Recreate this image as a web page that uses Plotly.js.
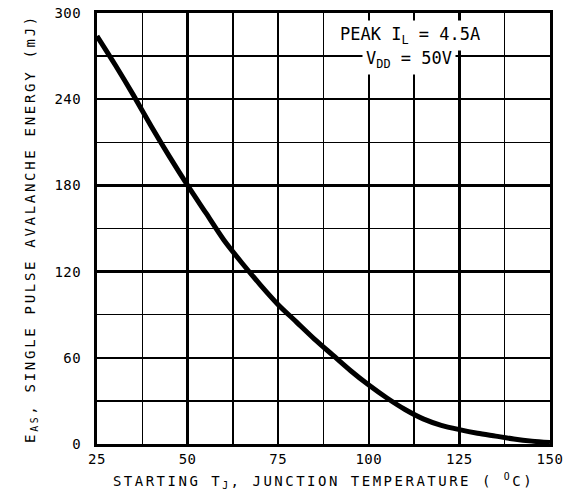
<!DOCTYPE html>
<html>
<head>
<meta charset="utf-8">
<script src="https://cdn.plot.ly/plotly-3.0.1.min.js"></script>
<style>
html,body{margin:0;padding:0;background:#fff;}
#chart{width:566px;height:499px;}
.xtitle{letter-spacing:2.5px;}
.ytitle{letter-spacing:2.7px;}
.xtick text,.ytick text{letter-spacing:0.5px;}
</style>
</head>
<body>
<div id="chart"></div>
<script>
// Starting junction temperature (°C)
const tempC = [25, 30, 35, 40, 45, 50, 55, 60, 65, 70, 75, 80, 85, 90, 95, 100, 105, 110, 115, 120, 125, 130, 135, 140, 145, 150];
// Single pulse avalanche energy (mJ)
const energyMJ = [284, 264, 243, 221, 200, 180, 161, 142, 126, 111, 97, 85, 73, 62, 51, 41, 32, 24, 17.5, 13, 10, 7.5, 5.5, 3.5, 2, 1];

const xTicks = [25, 50, 75, 100, 125, 150];
const yTicks = [0, 60, 120, 180, 240, 300];

const fontFam = '"DejaVu Sans Mono", monospace';

const trace = {
  x: tempC,
  y: energyMJ,
  type: 'scatter',
  mode: 'lines',
  line: {color: '#000', width: 5, shape: 'spline', smoothing: 0.8},
  hoverinfo: 'skip',
  showlegend: false
};

const layout = {
  width: 566,
  height: 499,
  margin: {l: 97, r: 16, t: 13, b: 55},
  paper_bgcolor: '#fff',
  plot_bgcolor: '#fff',
  font: {family: fontFam, color: '#000', size: 14},
  xaxis: {
    range: [25, 150],
    tickvals: xTicks,
    ticktext: xTicks.map(String),
    ticks: '',
    ticklabelstandoff: 0,
    showgrid: true,
    gridcolor: '#000',
    gridwidth: 2.5,
    minor: {dtick: 12.5, tick0: 25, showgrid: true, gridcolor: '#000', gridwidth: 1.5},
    zeroline: false,
    showline: true,
    mirror: true,
    linecolor: '#000',
    linewidth: 3,
    tickfont: {family: fontFam, size: 14, color: '#000'},
    title: {
      text: 'STARTING T<sub>J</sub>, JUNCTION TEMPERATURE ( <sup>O</sup>C)',
      font: {family: fontFam, size: 14, color: '#000'},
      standoff: 11
    },
    automargin: false
  },
  yaxis: {
    range: [0, 300],
    tickvals: yTicks,
    ticktext: yTicks.map(String),
    ticks: '',
    ticklabelstandoff: 10,
    showgrid: true,
    gridcolor: '#000',
    gridwidth: 2.5,
    minor: {dtick: 30, tick0: 0, showgrid: true, gridcolor: '#000', gridwidth: 1.5},
    zeroline: false,
    showline: true,
    mirror: true,
    linecolor: '#000',
    linewidth: 3,
    tickfont: {family: fontFam, size: 14, color: '#000'},
    title: {
      text: 'E<sub>AS</sub>, SINGLE PULSE AVALANCHE ENERGY (mJ)',
      font: {family: fontFam, size: 14, color: '#000'},
      standoff: 16
    },
    automargin: false
  },
  annotations: [
    {
      xref: 'x', yref: 'y', x: 111.5, y: 284,
      text: 'PEAK I<sub>L</sub> = 4.5A',
      showarrow: false,
      font: {family: fontFam, size: 17, color: '#000'},
      bgcolor: '#fff',
      borderpad: 3
    },
    {
      xref: 'x', yref: 'y', x: 111, y: 267.5,
      text: 'V<sub>DD</sub> = 50V',
      showarrow: false,
      font: {family: fontFam, size: 17, color: '#000'},
      bgcolor: '#fff',
      borderpad: 3
    }
  ]
};

Plotly.newPlot('chart', [trace], layout, {staticPlot: true, displayModeBar: false});
</script>
</body>
</html>
